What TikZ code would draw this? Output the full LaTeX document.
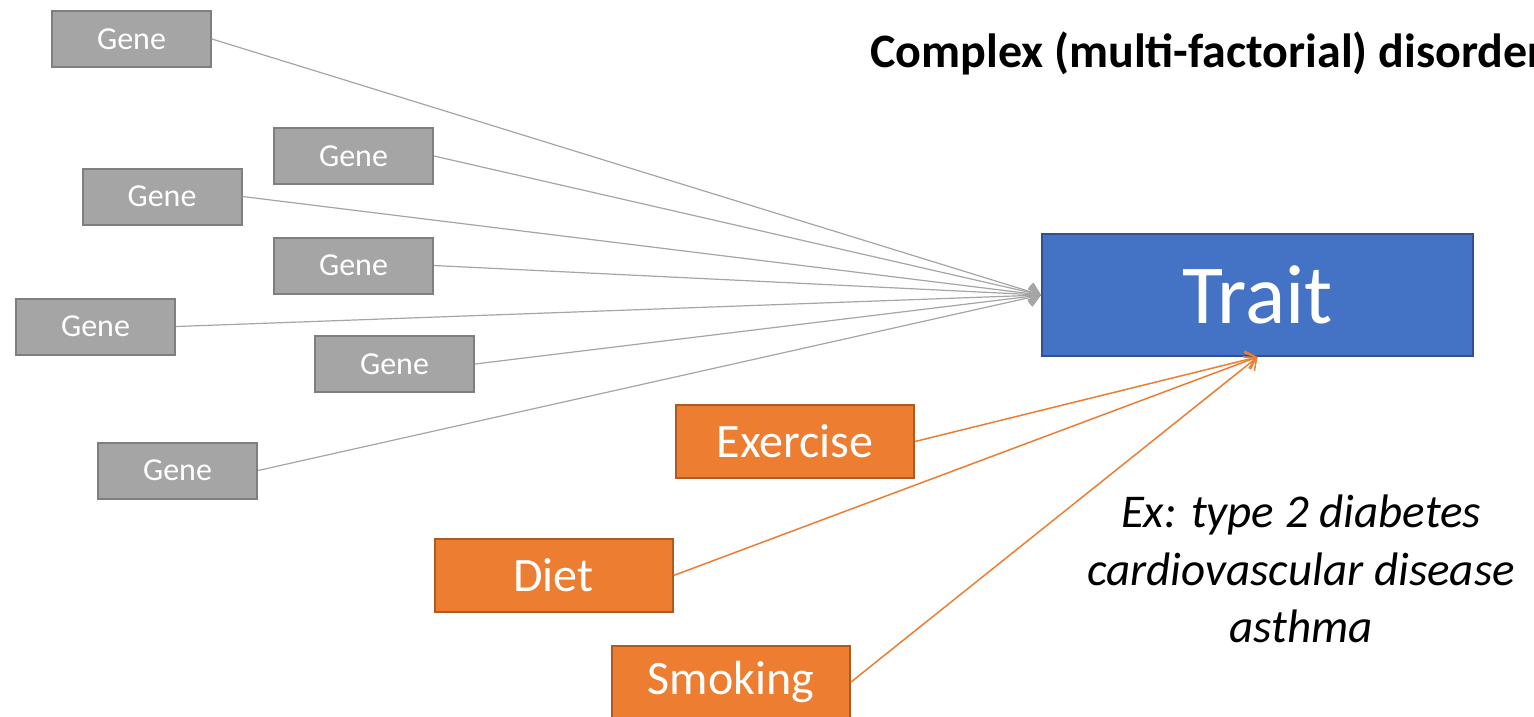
\documentclass[tikz,border=0pt]{standalone}
\usepackage{fontspec}
\setmainfont{Carlito}
\usetikzlibrary{arrows.meta}
\definecolor{genefill}{HTML}{A5A5A5}
\definecolor{genedraw}{HTML}{7F7F7F}
\definecolor{traitfill}{HTML}{4472C4}
\definecolor{traitdraw}{HTML}{2F528F}
\definecolor{envfill}{HTML}{ED7D31}
\definecolor{envdraw}{HTML}{AE5A21}
\tikzset{
  genebox/.style={draw=genedraw, fill=genefill, line width=2pt, minimum width=159pt, minimum height=56pt, inner sep=0pt, text=white, font=\fontsize{32}{38}\selectfont},
  envbox/.style={draw=envdraw, fill=envfill, line width=2pt, minimum width=238pt, minimum height=73pt, inner sep=0pt, text=white, font=\fontsize{48}{57}\selectfont},
  traitbox/.style={draw=traitdraw, fill=traitfill, line width=2pt, minimum width=431pt, minimum height=122pt, inner sep=0pt, text=white, font=\fontsize{84}{100}\selectfont},
  genearrow/.style={draw=genefill, line width=1.2pt, -{Straight Barb[length=10pt,width=18pt,line width=1.5pt]}},
  envarrow/.style={draw=envfill, line width=1.5pt, -{Straight Barb[length=10pt,width=18pt,line width=1.5pt]}},
}
\begin{document}
\begin{tikzpicture}[x=1pt, y=-1pt]
\useasboundingbox (0,0) rectangle (1534,716);
\clip (0,0) rectangle (1534,716);
\node[traitbox] (trait) at (1257.5,295) {Trait};
\node[genebox] (g1) at (131.5,39) {Gene};
\node[genebox] (g2) at (353.5,156) {Gene};
\node[genebox] (g3) at (162,196.5) {Gene};
\node[genebox] (g4) at (353.5,265.5) {Gene};
\node[genebox] (g5) at (95.5,326.5) {Gene};
\node[genebox] (g6) at (394.5,364) {Gene};
\node[genebox] (g7) at (177.5,470.5) {Gene};
\node[envbox] (ex) at (795,441.5) {Exercise};
\node[envbox] (diet) at (553.5,575.5) {Diet};
\node[envbox] (smoke) at (731,682) {Smoking};
\foreach \g in {g1,g2,g3,g4,g5,g6,g7}{
  \draw[genearrow] (\g.east) -- (trait.west);
}
\draw[envarrow] (ex.east) -- (trait.south);
\draw[envarrow] (diet.east) -- (trait.south);
\draw[envarrow] (smoke.east) -- (trait.south);
\node[anchor=base west, inner sep=0pt, font=\fontsize{48}{57}\selectfont\bfseries] (title) at (870,67) {Complex (multi-factorial) disorders};
\node[align=center, inner sep=0pt, font=\fontsize{47}{57.5}\selectfont\itshape] (examples) at (1301,569) {Ex: type 2 diabetes\\cardiovascular disease\\asthma};
\end{tikzpicture}
\end{document}
